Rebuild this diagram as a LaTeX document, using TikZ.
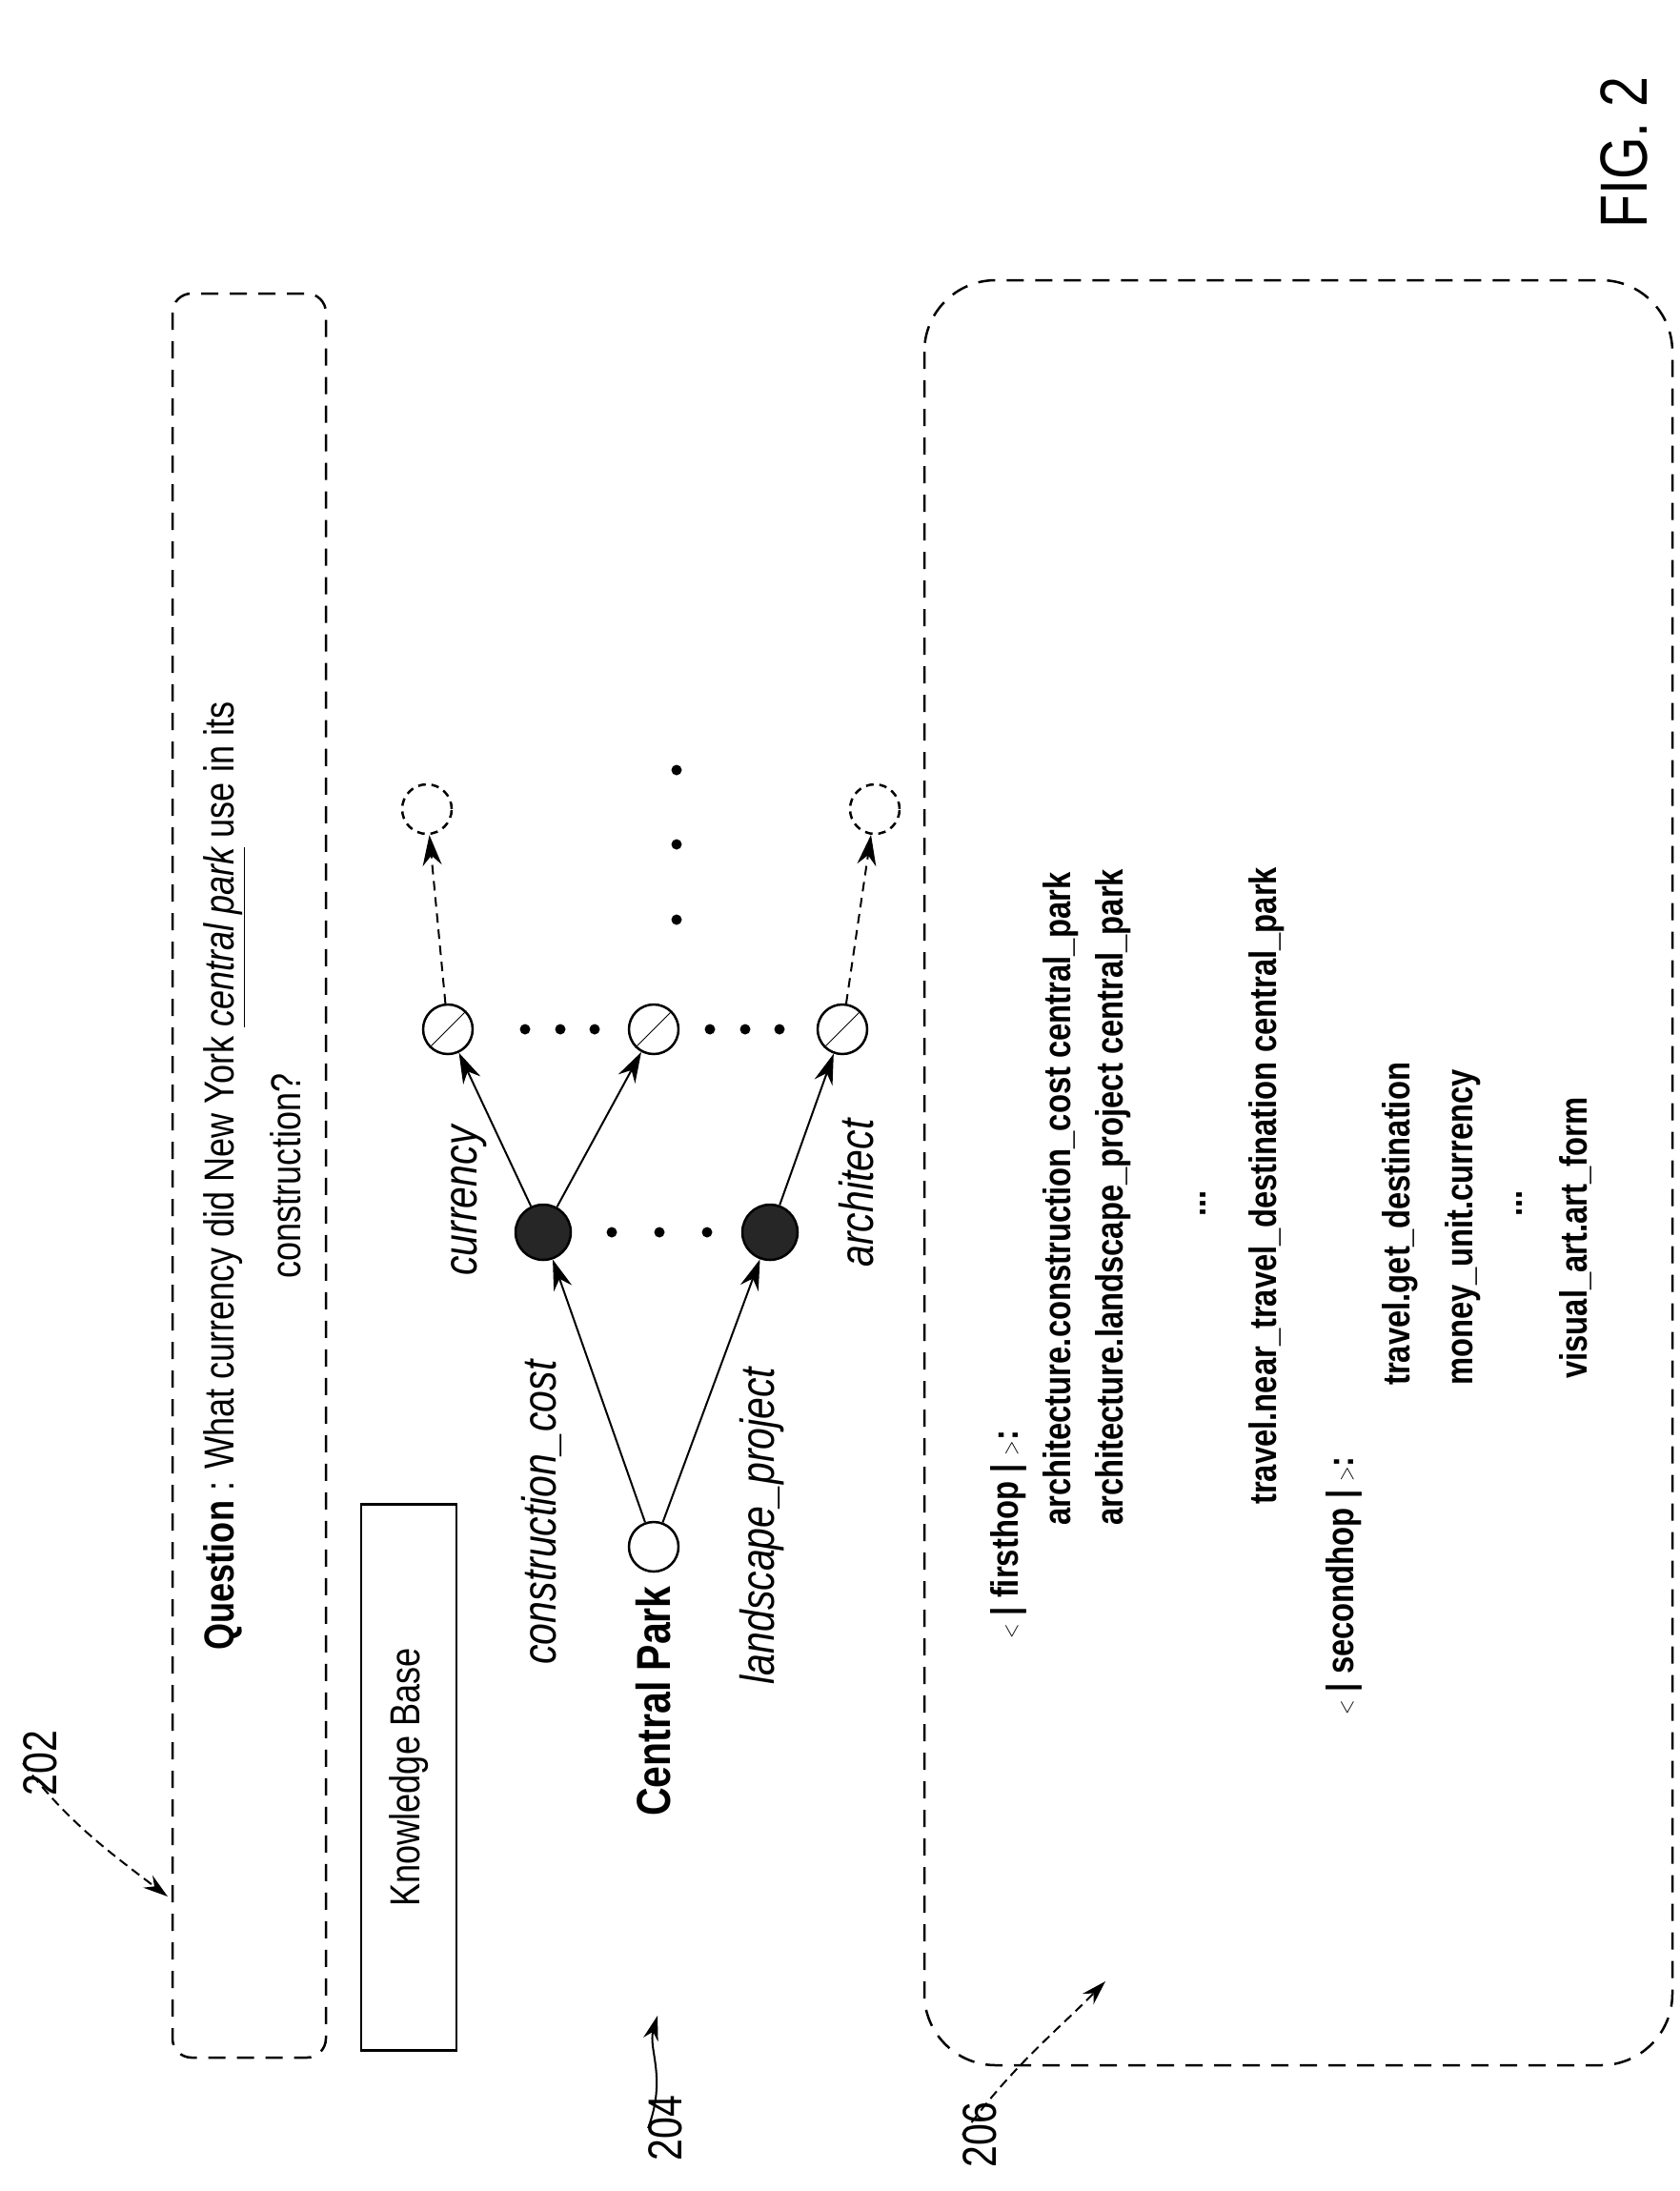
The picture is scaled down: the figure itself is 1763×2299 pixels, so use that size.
\documentclass[tikz,border=0pt]{standalone}
\usepackage{fontspec}
\setmainfont{Liberation Sans}
\usetikzlibrary{arrows.meta}
\begin{document}
\begin{tikzpicture}[x=1pt,y=-1pt,
  box/.style={draw, line width=2.5pt, dash pattern=on 18pt off 12pt},
  txt/.style={rotate=90, xscale=0.82, inner sep=0pt, font=\fontsize{40}{48}\selectfont},
  gtxt/.style={txt, font=\fontsize{50}{60}\selectfont},
  nd/.style={circle, draw, line width=2.5pt, minimum size=52pt, inner sep=0pt},
  arr/.style={line width=2pt, -{Stealth[length=32pt,width=20pt]}},
  darr/.style={arr, dash pattern=on 10pt off 7pt},
  dot/.style={circle, fill, inner sep=0pt, minimum size=11pt},
  lab/.style={line width=2pt, dash pattern=on 10pt off 6pt, -{Stealth[length=26pt,width=16pt]}}]
\useasboundingbox (0,0) rectangle (1763,2299);
% box 202
\draw[box, rounded corners=20pt] (181,308) rectangle (342,2159);
\node[txt, font=\fontsize{44}{70}\selectfont, align=center] (q) at (265,1234)
 {\textbf{Question} : What currency did New York \underline{\itshape central park} use in its\\ construction?};
\node[gtxt, anchor=center] (l202) at (42,1850) {202};
\coordinate (a202) at (176,1990);
\draw[lab] (l202.north) .. controls (70,1910) and (110,1940) .. (a202);
% knowledge base
\node[draw, line width=2.5pt, minimum width=100pt, minimum height=573pt, inner sep=0pt] (kb) at (429,1865) {};
\node[txt, font=\fontsize{44}{52}\selectfont] at (kb) {Knowledge Base};
% graph
\node[nd] (cp) at (686,1623) {};
\node[nd, fill=black!85, minimum size=58pt] (cc) at (570,1293) {};
\node[nd, fill=black!85, minimum size=58pt] (lp) at (808,1293) {};
\node[nd] (h1) at (470,1080) {}; \draw[line width=1pt] (h1.south west) -- (h1.north east);
\node[nd] (h2) at (686,1080) {}; \draw[line width=1pt] (h2.south west) -- (h2.north east);
\node[nd] (h3) at (884,1080) {}; \draw[line width=1pt] (h3.south west) -- (h3.north east);
\node[nd, dash pattern=on 8pt off 6pt] (d1) at (448,849) {};
\node[nd, dash pattern=on 8pt off 6pt] (d2) at (918,849) {};
\draw[arr] (cp) -- (cc);
\draw[arr] (cp) -- (lp);
\draw[arr] (cc) -- (h1);
\draw[arr] (cc) -- (h2);
\draw[arr] (lp) -- (h3);
\draw[darr] (h1) -- (d1);
\draw[darr] (h3) -- (d2);
\foreach \x/\n in {642/a,692/b,742/c} \node[dot] (f\n) at (\x,1293) {};
\foreach \x/\n in {551/a,588/b,624/c,745/d,782/e,818/f} \node[dot] (g\n) at (\x,1080) {};
\foreach \y/\n in {808/a,886/b,965/c} \node[dot] (v\n) at (710,\y) {};
\node[gtxt] at (686,1785) {\textbf{Central Park}};
\node[gtxt] at (568,1587) {\itshape construction\_cost};
\node[gtxt] at (800,1601) {\itshape landscape\_project};
\node[gtxt] at (492,1260) {\itshape currency};
\node[gtxt] at (899,1252) {\itshape architect};
\node[gtxt, anchor=center] (l204) at (698,2233) {204};
\coordinate (a204) at (690,2115);
\draw[lab, solid] (l204.north) .. controls (700,2180) and (680,2150) .. (a204);
% box 206
\draw[box, rounded corners=75pt] (970,294) rectangle (1755,2167);
\node[gtxt, anchor=center] (l206) at (1028,2240) {206};
\coordinate (a206) at (1160,2079);
\draw[lab] (l206.north) .. controls (1060,2170) and (1110,2130) .. (a206);
\node[txt, anchor=west] at (1058,1720) {\textbf{$<$ | firsthop | $>$:}};
\node[txt, anchor=west] at (1113,1601) {\textbf{architecture.construction\_cost central\_park}};
\node[txt, anchor=west] at (1168,1601) {\textbf{architecture.landscape\_project central\_park}};
\node[txt] at (1263,1263) {\textbf{...}};
\node[txt, anchor=west] at (1329,1579) {\textbf{travel.near\_travel\_destination central\_park}};
\node[txt, anchor=west] at (1410,1800) {\textbf{$<$ | secondhop | $>$:}};
\node[txt, anchor=west] at (1469,1454) {\textbf{travel.get\_destination}};
\node[txt, anchor=west] at (1535,1454) {\textbf{money\_unit.currency}};
\node[txt] at (1594,1263) {\textbf{...}};
\node[txt, anchor=west] at (1653,1447) {\textbf{visual\_art.art\_form}};
\node[txt, font=\fontsize{70}{80}\selectfont] at (1704,160) {FIG. 2};
\end{tikzpicture}
\end{document}
